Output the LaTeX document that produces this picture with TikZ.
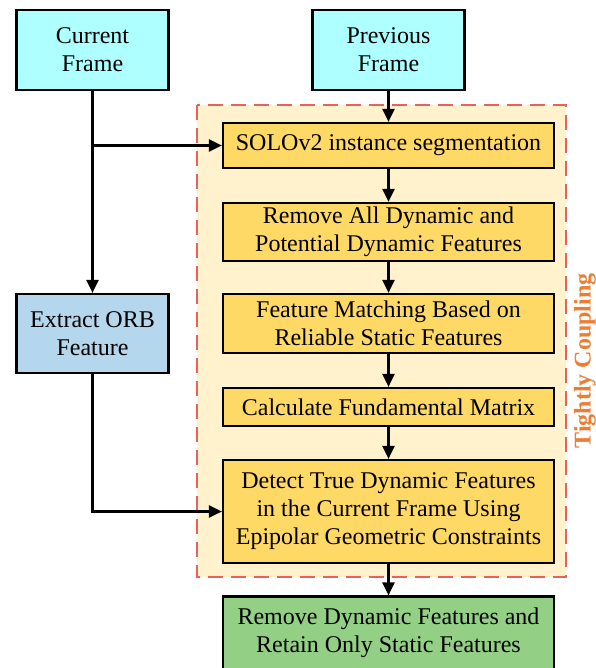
\documentclass[tikz,border=0pt]{standalone}
\usepackage{fontspec}
\setmainfont{Liberation Serif}
\usepackage{tikz}
\usetikzlibrary{arrows.meta}
\definecolor{framecyan}{HTML}{AEFFFF}
\definecolor{orbblue}{HTML}{B4D7EE}
\definecolor{stepgold}{HTML}{FFD966}
\definecolor{couplefill}{HTML}{FFF2CC}
\definecolor{coupleline}{HTML}{E8625C}
\definecolor{couplelabel}{HTML}{ED7D31}
\definecolor{resultgreen}{HTML}{94CF86}

\begin{document}
\begin{tikzpicture}[x=1pt,y=-1pt]
\tikzstyle{base} = [draw, line width=2.2pt, align=center, inner sep=2pt,
  font=\fontsize{24}{28}\selectfont]
\tikzstyle{input} = [base, fill=framecyan, minimum width=152pt, minimum height=80pt]
\tikzstyle{orbbox} = [base, fill=orbblue, minimum width=152pt, minimum height=79pt]
\tikzstyle{stepbox} = [base, fill=stepgold, minimum width=331pt]
\tikzstyle{result} = [base, fill=resultgreen, minimum width=331pt, minimum height=73pt]
\tikzstyle{arrow} = [line width=2.2pt, -{Triangle[length=13pt,width=12pt]}]

\useasboundingbox (0,0) rectangle (595,668);

\draw[fill=couplefill, draw=coupleline, line width=1.6pt, dash pattern=on 15pt off 8pt]
  (197,105) rectangle (566,577);
\node[rotate=90, text=couplelabel, font=\fontsize{24}{28}\selectfont\bfseries]
  (couple) at (585,361) {Tightly Coupling};

\node[input] (current) at (92.5,50) {Current\\Frame};
\node[input] (previous) at (388.5,50) {Previous\\Frame};
\node[orbbox] (orb) at (92.5,333.5) {Extract ORB\\Feature};

\node[stepbox, minimum height=45pt] (solo) at (388.5,145.5) {SOLOv2 instance segmentation};
\node[stepbox, minimum height=58pt] (remove) at (388.5,232)
  {Remove All Dynamic and\\Potential Dynamic Features};
\node[stepbox, minimum height=59pt] (matching) at (388.5,323.5)
  {Feature Matching Based on\\Reliable Static Features};
\node[stepbox, minimum height=38pt] (fundamental) at (388.5,407)
  {Calculate Fundamental Matrix};
\node[stepbox, minimum height=103pt] (detect) at (388.5,511.5)
  {Detect True Dynamic Features\\in the Current Frame Using\\Epipolar Geometric Constraints};
\node[result] (output) at (388.5,633) {Remove Dynamic Features and\\Retain Only Static Features};

\draw[arrow] (current) -- (orb);
\draw[arrow] (current.south |- solo) -- (solo);
\draw[arrow] (previous) -- (solo);
\draw[arrow] (solo) -- (remove);
\draw[arrow] (remove) -- (matching);
\draw[arrow] (matching) -- (fundamental);
\draw[arrow] (fundamental) -- (detect);
\draw[arrow] (detect) -- (output);
\draw[arrow] (orb) |- (detect);
\end{tikzpicture}
\end{document}
